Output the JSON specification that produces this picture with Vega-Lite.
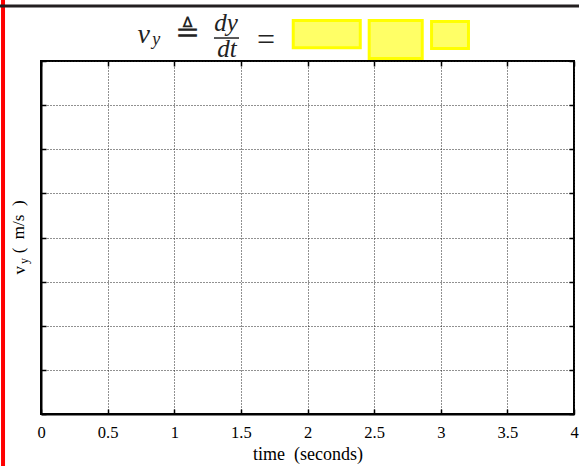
{
  "$schema": "https://vega.github.io/schema/vega-lite/v6.json",
  "width": 533,
  "height": 353,
  "autosize": "none",
  "padding": {"left": 41, "top": 61, "right": 5, "bottom": 52},
  "background": "white",
  "data": {"values": [{"chart": "v_y versus time (blank worksheet)"}]},
  "config": {
    "view": {"stroke": "black", "strokeWidth": 2},
    "axis": {
      "domainColor": "black", "domainWidth": 2,
      "tickColor": "black", "tickWidth": 1.5, "tickSize": -5,
      "gridColor": "#222222", "gridDash": [1, 2], "gridWidth": 1,
      "labelFont": "Liberation Serif", "labelFontSize": 16.5, "labelColor": "black",
      "titleFont": "Liberation Serif", "titleFontSize": 18, "titleColor": "black", "titleFontWeight": "normal"
    }
  },
  "resolve": {"axis": {"x": "independent", "y": "independent"}},
  "layer": [
    {
      "mark": {"type": "rect", "fill": "#ffff66", "stroke": "#ffff00", "strokeWidth": 3},
      "encoding": {
        "x": {"datum": 1.893, "type": "quantitative", "scale": {"domain": [0, 4], "nice": false, "zero": false},
          "axis": {"orient": "bottom", "values": [0, 0.5, 1, 1.5, 2, 2.5, 3, 3.5, 4], "format": "~g", "grid": true,
            "labelFont": "Liberation Serif", "labelFontSize": 16.5, "labelColor": "black",
            "labelFlush": false, "labelOverlap": false, "labelPadding": 15,
            "title": "time\u00a0 (seconds)", "titleFont": "Liberation Serif", "titleFontSize": 18, "titlePadding": 5}},
        "x2": {"datum": 2.396},
        "y": {"datum": 8.918, "type": "quantitative", "scale": {"domain": [0, 8], "nice": false, "zero": false},
          "axis": {"orient": "left", "values": [0, 1, 2, 3, 4, 5, 6, 7, 8], "labels": false, "grid": true, "title": null}},
        "y2": {"datum": 8.299}
      }
    },
    {
      "mark": {"type": "rect", "fill": "#ffff66", "stroke": "#ffff00", "strokeWidth": 3},
      "encoding": {
        "x": {"datum": 2.463, "type": "quantitative",
          "axis": {"orient": "top", "values": [0, 0.5, 1, 1.5, 2, 2.5, 3, 3.5, 4], "labels": false, "grid": false, "domain": false, "title": null}},
        "x2": {"datum": 2.861},
        "y": {"datum": 8.918, "type": "quantitative",
          "axis": {"orient": "right", "values": [0, 1, 2, 3, 4, 5, 6, 7, 8], "labels": false, "grid": false, "domain": false, "title": null}},
        "y2": {"datum": 8.057}
      }
    },
    {
      "mark": {"type": "rect", "fill": "#ffff66", "stroke": "#ffff00", "strokeWidth": 3},
      "encoding": {
        "x": {"datum": 2.931, "type": "quantitative", "axis": null},
        "x2": {"datum": 3.208},
        "y": {"datum": 8.895, "type": "quantitative", "axis": null},
        "y2": {"datum": 8.283}
      }
    },
    {
      "mark": {"type": "text", "text": "v", "font": "Liberation Serif", "fontStyle": "italic", "fontSize": 28, "align": "center", "baseline": "alphabetic", "color": "#222222"},
      "encoding": {"x": {"datum": 0.77, "type": "quantitative", "axis": null}, "y": {"datum": 8.408, "type": "quantitative", "axis": null}}
    },
    {
      "mark": {"type": "text", "text": "y", "font": "Liberation Serif", "fontStyle": "italic", "fontSize": 18, "align": "center", "baseline": "alphabetic", "color": "#222222"},
      "encoding": {"x": {"datum": 0.865, "type": "quantitative", "axis": null}, "y": {"datum": 8.363, "type": "quantitative", "axis": null}}
    },
    {
      "mark": {"type": "text", "text": "≜", "font": "DejaVu Serif", "fontSize": 30, "align": "center", "baseline": "middle", "color": "#222222"},
      "encoding": {"x": {"datum": 1.096, "type": "quantitative", "axis": null}, "y": {"datum": 8.63, "type": "quantitative", "axis": null}}
    },
    {
      "mark": {"type": "text", "text": "dy", "font": "Liberation Serif", "fontStyle": "italic", "fontSize": 25, "align": "center", "baseline": "alphabetic", "color": "#222222"},
      "encoding": {"x": {"datum": 1.388, "type": "quantitative", "axis": null}, "y": {"datum": 8.680, "type": "quantitative", "axis": null}}
    },
    {
      "mark": {"type": "rule", "color": "#222222", "strokeWidth": 1.5},
      "encoding": {"x": {"datum": 1.298, "type": "quantitative", "axis": null}, "x2": {"datum": 1.486}, "y": {"datum": 8.521, "type": "quantitative", "axis": null}}
    },
    {
      "mark": {"type": "text", "text": "dt", "font": "Liberation Serif", "fontStyle": "italic", "fontSize": 25, "align": "center", "baseline": "alphabetic", "color": "#222222"},
      "encoding": {"x": {"datum": 1.396, "type": "quantitative", "axis": null}, "y": {"datum": 8.091, "type": "quantitative", "axis": null}}
    },
    {
      "mark": {"type": "text", "text": "=", "font": "Liberation Serif", "fontSize": 32, "align": "center", "baseline": "middle", "color": "#222222"},
      "encoding": {"x": {"datum": 1.689, "type": "quantitative", "axis": null}, "y": {"datum": 8.476, "type": "quantitative", "axis": null}}
    },
    {
      "mark": {"type": "text", "text": "v", "font": "Liberation Serif", "fontSize": 17, "align": "center", "baseline": "middle", "angle": 270, "color": "black"},
      "encoding": {"x": {"datum": -0.16, "type": "quantitative", "axis": null}, "y": {"datum": 3.26, "type": "quantitative", "axis": null}}
    },
    {
      "mark": {"type": "text", "text": "y", "font": "Liberation Serif", "fontSize": 12, "align": "center", "baseline": "middle", "angle": 270, "color": "black"},
      "encoding": {"x": {"datum": -0.125, "type": "quantitative", "axis": null}, "y": {"datum": 3.47, "type": "quantitative", "axis": null}}
    },
    {
      "mark": {"type": "text", "text": "(\u00a0 m/s \u00a0)", "font": "Liberation Serif", "fontSize": 17, "align": "center", "baseline": "middle", "angle": 270, "color": "black"},
      "encoding": {"x": {"datum": -0.165, "type": "quantitative", "axis": null}, "y": {"datum": 4.24, "type": "quantitative", "axis": null}}
    },
    {
      "mark": {"type": "rule", "color": "#ff0000", "strokeWidth": 4},
      "encoding": {"x": {"datum": -0.285, "type": "quantitative", "axis": null}, "y": {"datum": -1.178, "type": "quantitative", "axis": null}, "y2": {"datum": 9.383}}
    },
    {
      "mark": {"type": "rule", "color": "#231f20", "strokeWidth": 3},
      "encoding": {"x": {"datum": -0.308, "type": "quantitative", "axis": null}, "x2": {"datum": 4.038}, "y": {"datum": 9.246, "type": "quantitative", "axis": null}}
    }
  ]
}
